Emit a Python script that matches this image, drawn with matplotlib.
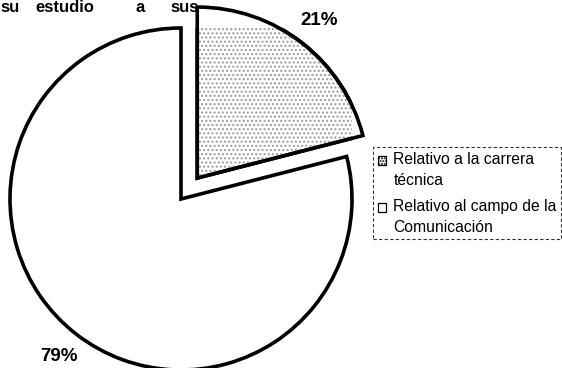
import matplotlib
matplotlib.use('Agg')
import matplotlib.pyplot as plt
from matplotlib.patches import Wedge, Patch
from matplotlib.legend_handler import HandlerPatch

# ---- data ----
categories = ['Relativo a la carrera\ntécnica', 'Relativo al campo de la\nComunicación']
values = [21, 79]
header_words = ['su', 'estudio', 'a', 'sus']
header_x_px = [0, 35, 135, 170]

plt.rcParams['font.family'] = ['Liberation Sans', 'DejaVu Sans']
plt.rcParams['hatch.linewidth'] = 1.0

W, H = 562, 368
fig = plt.figure(figsize=(W / 100, H / 100), dpi=100)
fig.patch.set_facecolor('white')

cx, cy, r = 181, 199, 171
ax = fig.add_axes([(cx - r) / W, (H - cy - r) / H, 2 * r / W, 2 * r / H])

wedges, texts, autotexts = ax.pie(
    values, startangle=90, counterclock=False, explode=[0.155, 0],
    colors=['white', 'white'], autopct='%d%%', pctdistance=1.165,
    wedgeprops=dict(edgecolor='black', linewidth=2.6, joinstyle='miter'),
    textprops=dict(fontsize=13.5, color='black', fontweight='bold'))
ax.set_xlim(-1, 1)
ax.set_ylim(-1, 1)
ax.axis('off')

# stipple texture on the first slice
w0 = wedges[0]
ax.add_patch(Wedge(w0.center, w0.r, w0.theta1, w0.theta2, facecolor='none',
                   edgecolor='#9a9a9a', hatch='....', linewidth=0, zorder=w0.get_zorder() + 0.1))
ax.add_patch(Wedge(w0.center, w0.r, w0.theta1, w0.theta2, facecolor='none',
                   edgecolor='black', linewidth=2.6, joinstyle='miter', zorder=w0.get_zorder() + 0.2))

# header text fragment
for word, xp in zip(header_words, header_x_px):
    fig.text(xp / W, 1 - 12.5 / H, word, ha='left', va='baseline',
             fontsize=12, fontweight='bold')


class TopHandler(HandlerPatch):
    """Place the legend square next to the first line of a two-line label."""
    def create_artists(self, legend, orig_handle, xdescent, ydescent,
                       width, height, fontsize, trans):
        return super().create_artists(legend, orig_handle, xdescent,
                                      ydescent - 0.6 * fontsize, width, height,
                                      fontsize, trans)


handles = [Patch(facecolor='white', edgecolor='black', hatch='......', linewidth=0.9),
           Patch(facecolor='white', edgecolor='black', linewidth=0.9)]
leg = fig.legend(handles, categories, loc='upper left',
                 bbox_to_anchor=(373 / W, 1 - 147 / H), borderaxespad=0,
                 fontsize=11.3, frameon=True, fancybox=False,
                 handlelength=0.55, handleheight=0.55, handletextpad=0.45,
                 labelspacing=0.7, borderpad=0.3,
                 handler_map={Patch: TopHandler()})
for t in leg.get_texts():
    t.set_linespacing(1.5)
fr = leg.get_frame()
fr.set_edgecolor('black')
fr.set_linewidth(0.8)
fr.set_linestyle((0, (3, 2)))

fig.savefig('out.png', dpi=100, facecolor='white')
